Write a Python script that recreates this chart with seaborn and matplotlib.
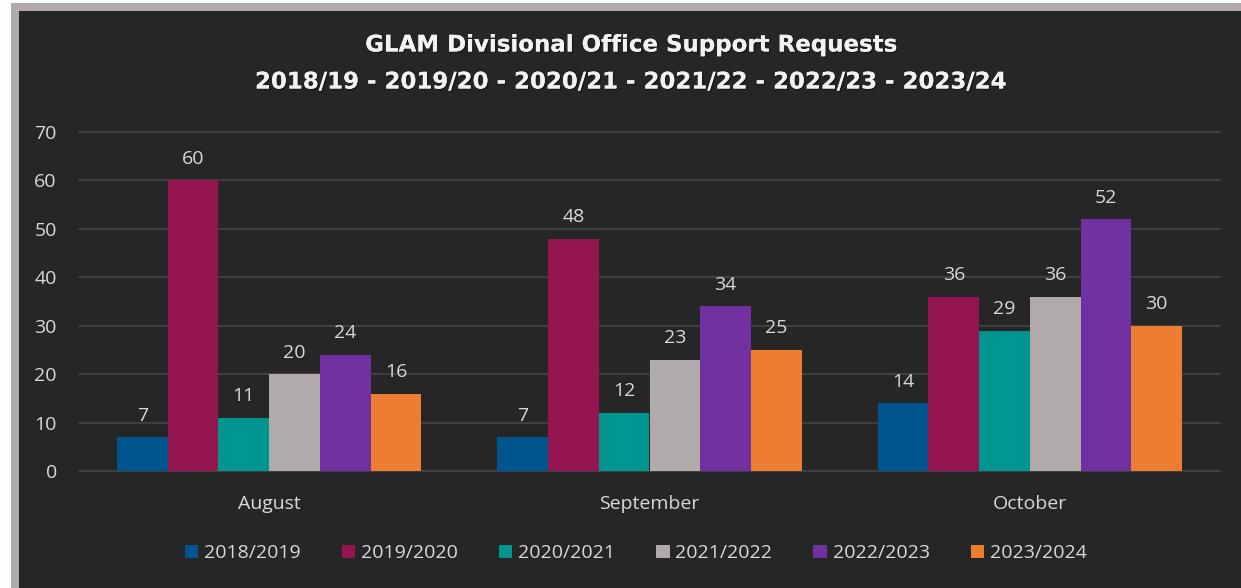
import pandas as pd
import matplotlib
matplotlib.use("Agg")
import matplotlib.pyplot as plt
import matplotlib.patheffects as pe
import seaborn as sns
from matplotlib.patches import Rectangle

months = ["August", "September", "October"]
years = ["2018/2019", "2019/2020", "2020/2021", "2021/2022", "2022/2023", "2023/2024"]
v_2018 = [7, 7, 14]
v_2019 = [60, 48, 36]
v_2020 = [11, 12, 29]
v_2021 = [20, 23, 36]
v_2022 = [24, 34, 52]
v_2023 = [16, 25, 30]
yticks = [0, 10, 20, 30, 40, 50, 60, 70]

colors = ["#00558F", "#941651", "#00968F", "#B0AAAA", "#7030A0", "#ED7D31"]
bg = "#262626"
txt = "#D9D9D9"

rows = []
for yr, vals in zip(years, [v_2018, v_2019, v_2020, v_2021, v_2022, v_2023]):
    for m, v in zip(months, vals):
        rows.append({"month": m, "year": yr, "requests": v})
df = pd.DataFrame(rows)

sns.set_theme(style="dark")
plt.rcParams["font.family"] = ["Open Sans", "DejaVu Sans"]

fig = plt.figure(figsize=(12.41, 5.88), dpi=100, facecolor="white")
# outer frame
fig.patches.append(Rectangle((11 / 1241, 0), 1, 1 - 3 / 588, transform=fig.transFigure,
                             facecolor="#B0AAAA", edgecolor="none", zorder=-2))
fig.patches.append(Rectangle((19 / 1241, 0), 1, 1 - 11 / 588, transform=fig.transFigure,
                             facecolor=bg, edgecolor="none", zorder=-1))

ax = fig.add_axes([79 / 1241, 1 - 471 / 588, (1220 - 79) / 1241, (471 - 132) / 588])
ax.set_facecolor(bg)

sns.barplot(data=df, x="month", y="requests", hue="year", order=months, hue_order=years,
            palette=colors, width=0.8, saturation=1, edgecolor="none", ax=ax, zorder=3)

for cont in ax.containers:
    ax.bar_label(cont, padding=9, color=txt, fontsize=14)

ax.set_ylim(0, 70)
ax.set_yticks(yticks)
ax.grid(axis="y", color="#3F3F3F", linewidth=1.5, zorder=0)
ax.grid(axis="x", visible=False)
for s in ax.spines.values():
    s.set_visible(False)
ax.tick_params(axis="y", colors=txt, labelsize=14, length=0, pad=16)
ax.tick_params(axis="x", colors=txt, labelsize=14, length=0, pad=17)
for gl in ax.get_ygridlines():
    gl.set_clip_on(False)
ax.set_xlabel("")
ax.set_ylabel("")

leg = ax.legend(loc="upper center", bbox_to_anchor=(0.488, -0.165), ncol=6, frameon=False,
                fontsize=14, handlelength=0.7, handleheight=0.7, handletextpad=0.3,
                columnspacing=2.1, labelcolor=txt)

shadow = [pe.withSimplePatchShadow(offset=(1, -1), shadow_rgbFace="black", alpha=0.35), pe.Normal()]
title_kw = dict(ha="center", va="center", color="#F2F2F2", fontsize=16.5,
                fontweight="bold", family=["DejaVu Sans"], path_effects=shadow)
fig.text(0.508, 1 - 45 / 588, "GLAM Divisional Office Support Requests", **title_kw)
fig.text(0.508, 1 - 82 / 588, "2018/19 - 2019/20 - 2020/21 - 2021/22 - 2022/23 - 2023/24", **title_kw)

fig.savefig("out.png", dpi=100, facecolor=fig.get_facecolor())
